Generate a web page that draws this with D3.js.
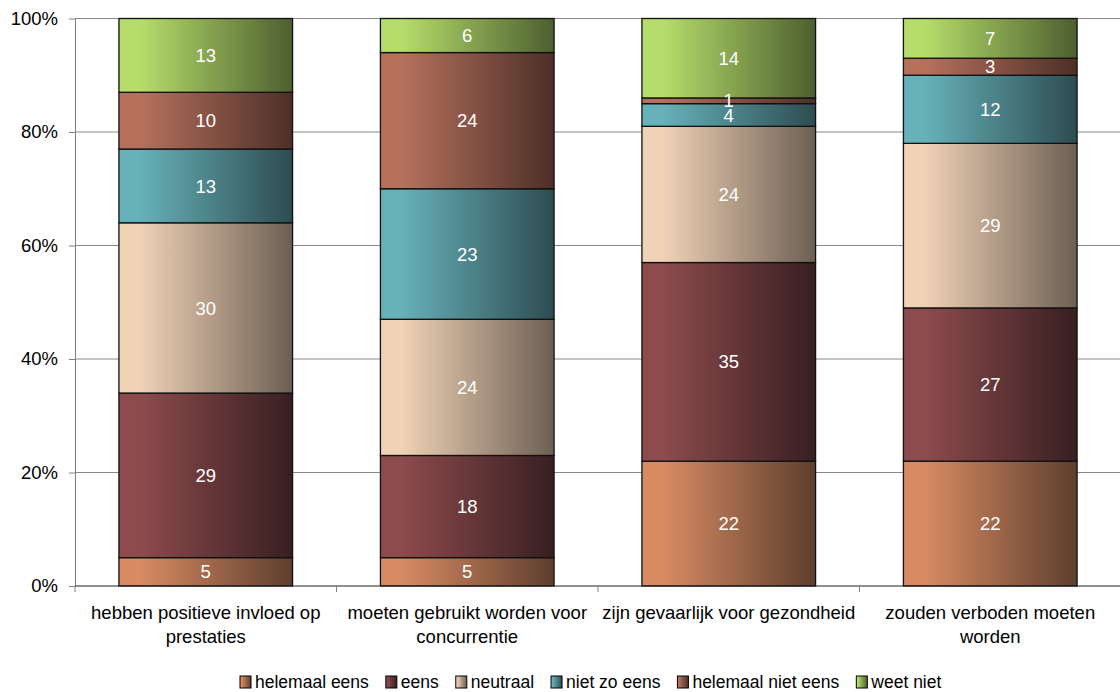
<!DOCTYPE html>
<html>
<head>
<meta charset="utf-8">
<script src="https://cdn.jsdelivr.net/npm/d3@7"></script>
<style>
  body { margin: 0; background: #fff; }
  svg { font-family: "Liberation Sans", Arial, sans-serif; }
</style>
</head>
<body>
<svg id="chart" width="1120" height="692"></svg>
<script>
const categories = [
  ["hebben positieve invloed op", "prestaties"],
  ["moeten gebruikt worden voor", "concurrentie"],
  ["zijn gevaarlijk voor gezondheid"],
  ["zouden verboden moeten", "worden"]
];
const seriesNames = ["helemaal eens", "eens", "neutraal", "niet zo eens", "helemaal niet eens", "weet niet"];
const helemaalEens     = [5, 5, 22, 22];
const eens             = [29, 18, 35, 27];
const neutraal         = [30, 24, 24, 29];
const nietZoEens       = [13, 23, 4, 12];
const helemaalNietEens = [10, 24, 1, 3];
const weetNiet         = [13, 6, 14, 7];
const yTicks = [0, 20, 40, 60, 80, 100];

const seriesValues = [helemaalEens, eens, neutraal, nietZoEens, helemaalNietEens, weetNiet];
// light (left) / dark (right) of each gradient
const colors = [
  ["#d88b63", "#5d3e2d"],
  ["#8d4b4d", "#381f21"],
  ["#f0d2b6", "#6c5f53"],
  ["#67b1b9", "#2d4c51"],
  ["#b6715d", "#4d2f28"],
  ["#b6dd6b", "#4d5f2f"]
];

const svg = d3.select("#chart");
const margin = { top: 18.5, right: -1, bottom: 106, left: 75 };
const W = 1120 - margin.left - margin.right;
const H = 692 - margin.top - margin.bottom;

const defs = svg.append("defs");
colors.forEach((c, i) => {
  const gr = defs.append("linearGradient").attr("id", "grad" + i)
    .attr("x1", "0%").attr("x2", "100%").attr("y1", "0%").attr("y2", "0%");
  gr.append("stop").attr("offset", "0%").attr("stop-color", c[0]);
  gr.append("stop").attr("offset", "12%").attr("stop-color", c[0]);
  gr.append("stop").attr("offset", "100%").attr("stop-color", c[1]);
});

const g = svg.append("g").attr("transform", `translate(${margin.left},${margin.top})`);

const x = d3.scaleBand().domain(d3.range(categories.length)).range([0, W])
  .paddingInner(0.336).paddingOuter(0.168);
const y = d3.scaleLinear().domain([0, 100]).range([H, 0]);

// gridlines
g.append("g").selectAll("line").data(yTicks.filter(t => t > 0)).join("line")
  .attr("x1", 0).attr("x2", W)
  .attr("y1", d => y(d)).attr("y2", d => y(d))
  .attr("stroke", "#8a8a8a").attr("stroke-width", 1);

// y axis
const yAxis = g.append("g")
  .call(d3.axisLeft(y).tickValues(yTicks).tickFormat(d => d + "%").tickSize(6).tickSizeOuter(0));
yAxis.select(".domain").attr("stroke", "#808080");
yAxis.selectAll(".tick line").attr("stroke", "#808080");
yAxis.selectAll(".tick text").attr("font-size", "18.5px").attr("fill", "#000").attr("x", -17)
  .attr("font-family", "Liberation Sans, Arial, sans-serif");

// stacked data
const table = categories.map((c, i) => {
  const row = { idx: i };
  seriesNames.forEach((s, j) => row[s] = seriesValues[j][i]);
  return row;
});
const stack = d3.stack().keys(seriesNames)(table);

stack.forEach((layer, j) => {
  const lg = g.append("g");
  lg.selectAll("rect").data(layer).join("rect")
    .attr("x", d => x(d.data.idx))
    .attr("y", d => y(d[1]))
    .attr("width", x.bandwidth())
    .attr("height", d => y(d[0]) - y(d[1]))
    .attr("fill", `url(#grad${j})`)
    .attr("stroke", "#111").attr("stroke-width", 1.3);
});
stack.forEach((layer, j) => {
  g.append("g").selectAll("text").data(layer).join("text")
    .attr("x", d => x(d.data.idx) + x.bandwidth() / 2)
    .attr("y", d => (y(d[0]) + y(d[1])) / 2)
    .attr("dy", "0.36em")
    .attr("text-anchor", "middle")
    .attr("fill", "#fff")
    .attr("font-size", "18.5px")
    .text(d => d[1] - d[0]);
});

// x axis
const xAxisG = g.append("g").attr("transform", `translate(0,${H})`);
xAxisG.append("line").attr("x1", 0).attr("x2", W).attr("stroke", "#222").attr("stroke-width", 1.2);
xAxisG.selectAll("line.tk").data(d3.range(categories.length + 1)).join("line")
  .attr("class", "tk")
  .attr("x1", d => d * W / categories.length).attr("x2", d => d * W / categories.length)
  .attr("y1", 0).attr("y2", 6).attr("stroke", "#808080");
xAxisG.selectAll("text").data(categories).join("text")
  .attr("text-anchor", "middle")
  .attr("font-size", "18.5px")
  .attr("fill", "#000")
  .attr("transform", (d, i) => `translate(${x(i) + x.bandwidth() / 2},33)`)
  .selectAll("tspan").data(d => d).join("tspan")
  .attr("x", 0).attr("dy", (d, k) => k === 0 ? 0 : "1.3em")
  .text(d => d);

// legend
const legend = svg.append("g").attr("transform", "translate(0,682)");
let lx = 240;
seriesNames.forEach((s, j) => {
  const item = legend.append("g").attr("transform", `translate(${lx},0)`);
  item.append("rect").attr("x", 0).attr("y", -6).attr("width", 11).attr("height", 12)
    .attr("fill", `url(#grad${j})`).attr("stroke", "#000").attr("stroke-width", 1);
  const t = item.append("text").attr("x", 15).attr("dy", "0.36em")
    .attr("font-size", "17.5px").attr("fill", "#000").text(s);
  lx += 15 + t.node().getComputedTextLength() + 17;
});
</script>
</body>
</html>
